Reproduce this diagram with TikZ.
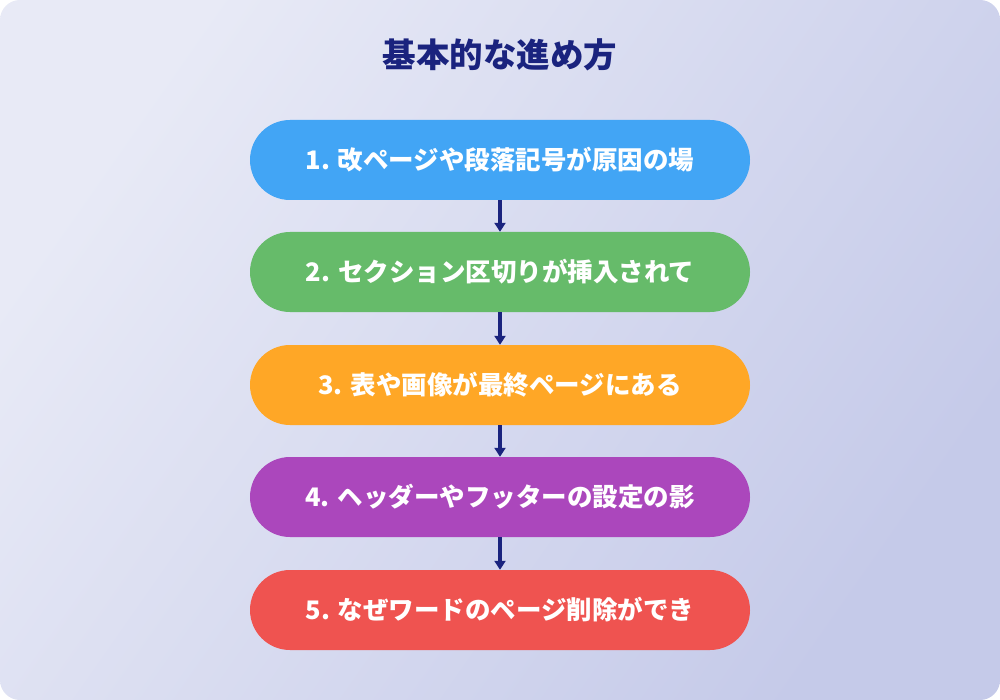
\documentclass[tikz,border=0pt]{standalone}
\usepackage{fontspec}
\setmainfont{Noto Sans CJK JP}
\usepackage{tikz}
\usetikzlibrary{positioning,arrows.meta}

\definecolor{navy}{HTML}{1A237E}
\definecolor{bgA}{HTML}{E8EAF6}
\definecolor{bgB}{HTML}{C5CAE9}
\definecolor{stepblue}{HTML}{42A5F5}
\definecolor{stepgreen}{HTML}{66BB6A}
\definecolor{steporange}{HTML}{FFA726}
\definecolor{steppurple}{HTML}{AB47BC}
\definecolor{stepred}{HTML}{EF5350}

\tikzset{
  stepbox/.style={rounded corners=40pt, minimum width=500pt, minimum height=80pt,
    text=white, font=\bfseries\fontsize{25.5}{30}\selectfont, inner sep=0pt},
  flowarrow/.style={-{Triangle[length=9pt,width=11pt]}, navy, line width=3.5pt}
}

\begin{document}
\begin{tikzpicture}[x=1pt,y=-1pt]
% background
\useasboundingbox (0,0) rectangle (1000,700);
\shade[rounded corners=20pt, left color=bgA, right color=bgB, shading angle=55] (0,0) rectangle (1000,700);
% title
\node (title) at (500,55) [text=navy, font=\bfseries\fontsize{33.5}{38}\selectfont] {基本的な進め方};
% steps
\node (s1) at (500,160) [stepbox, fill=stepblue] {1. 改ページや段落記号が原因の場};
\node (s2) at (500,272) [stepbox, fill=stepgreen] {2. セクション区切りが挿入されて};
\node (s3) at (500,385) [stepbox, fill=steporange] {3. 表や画像が最終ページにある};
\node (s4) at (500,497) [stepbox, fill=steppurple] {4. ヘッダーやフッターの設定の影};
\node (s5) at (500,610) [stepbox, fill=stepred] {5. なぜワードのページ削除ができ};
% arrows
\draw[flowarrow] (s1) -- (s2);
\draw[flowarrow] (s2) -- (s3);
\draw[flowarrow] (s3) -- (s4);
\draw[flowarrow] (s4) -- (s5);
\end{tikzpicture}
\end{document}
